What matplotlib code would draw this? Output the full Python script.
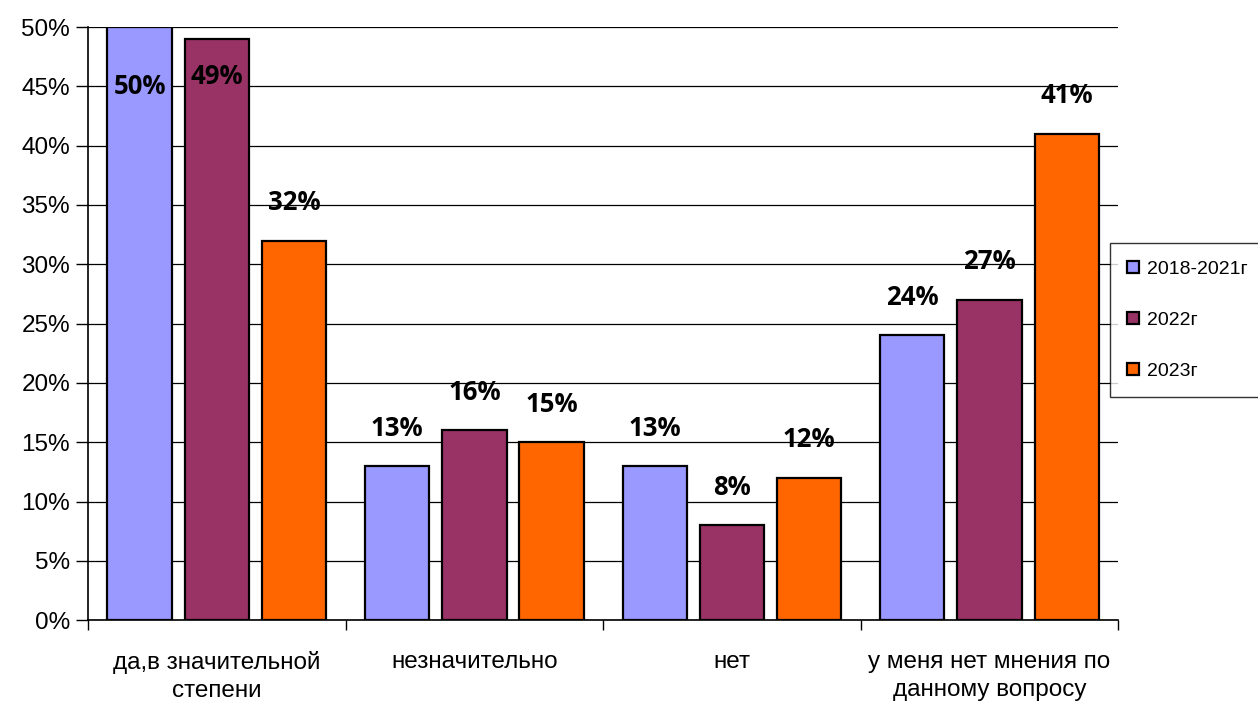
import matplotlib.pyplot as plt
import numpy as np

categories = ['да,в значительной\nстепени', 'незначительно', 'нет',
              'у меня нет мнения по\nданному вопросу']
series = ['2018-2021г', '2022г', '2023г']
v2018_2021 = [50, 13, 13, 24]
v2022 = [49, 16, 8, 27]
v2023 = [32, 15, 12, 41]
values = [v2018_2021, v2022, v2023]
colors = ['#9999FF', '#993366', '#FF6600']

plt.rcParams['font.family'] = ['Liberation Sans', 'DejaVu Sans']

fig = plt.figure(figsize=(12.58, 7.04), dpi=100)
ax = fig.add_axes([0.070, 0.119, 0.819, 0.8426])

x = np.arange(len(categories))
w = 0.25
step = 0.30
for i, vals in enumerate(values):
    pos = x + (i - 1) * step
    ax.bar(pos, vals, width=w, color=colors[i], edgecolor='black',
           linewidth=1.6, label=series[i], zorder=3)
    for p, v in zip(pos, vals):
        y = v + 3.2
        if y > 50:
            y = 45 + (i * 0.8)
        ax.text(p, y, '%d%%' % v, ha='center', va='center', fontsize=18.5,
                fontweight='bold', family=['Open Sans', 'DejaVu Sans'], zorder=4)

ax.set_xlim(-0.5, 3.5)
ax.set_ylim(0, 50)
ax.set_yticks(range(0, 51, 5))
ax.set_yticklabels(['%d%%' % t for t in range(0, 51, 5)], fontsize=17.5)
ax.yaxis.grid(True, color='black', linewidth=0.9, zorder=0)
ax.set_axisbelow(True)

ax.set_xticks(x)
ax.set_xticklabels(categories, fontsize=17.5, linespacing=1.35)
ax.tick_params(axis='x', length=0, pad=22)
ax.set_xticks(np.arange(-0.5, 4.0, 1.0), minor=True)
ax.tick_params(axis='x', which='minor', length=7, width=1, direction='out')
ax.tick_params(axis='y', length=9, width=1, direction='out', pad=4)

for s in ['top', 'right']:
    ax.spines[s].set_visible(False)
for s in ['left', 'bottom']:
    ax.spines[s].set_linewidth(1.2)

leg = fig.legend(loc='center left', bbox_to_anchor=(0.882, 0.545), fontsize=14,
                 frameon=True, fancybox=False, edgecolor='black',
                 labelspacing=1.75, handlelength=0.6, handleheight=0.6,
                 handletextpad=0.4, borderpad=0.9, borderaxespad=0)
leg.get_frame().set_linewidth(1.0)

plt.savefig('out.png', dpi=100)
